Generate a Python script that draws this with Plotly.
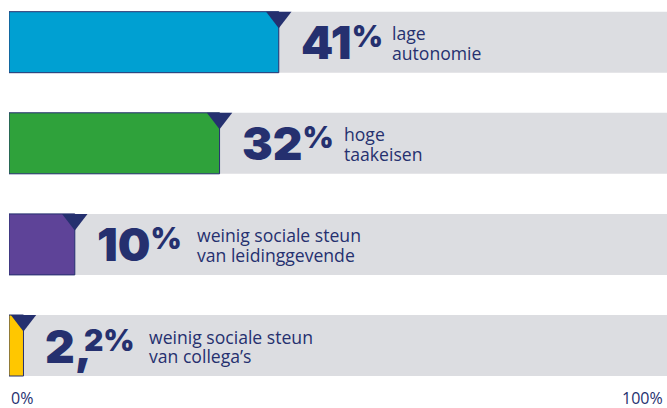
import plotly.graph_objects as go

# ---- data ----
values = [41, 32, 10, 2.2]
value_labels = ["41%", "32%", "10%", "2,2%"]
label_line1 = ["lage", "hoge", "weinig sociale steun", "weinig sociale steun"]
label_line2 = ["autonomie", "taakeisen", "van leidinggevende", "van collega\u2019s"]
bar_colors = ["#00A0D2", "#2FA23B", "#5E4398", "#FFC700"]
axis_labels = ["0%", "100%"]
full_scale = 100

# ---- style ----
W, H = 667, 408
NAVY = "#25306F"
GREY = "#DCDDE1"
PX_PER_ROW = 101.1
FIRST_ROW_PX = 42.2
BAR_H = 61 / PX_PER_ROW
TRI_SIZE = 22
NUM_SHIFT = 20
LABEL_SHIFT = [111, 122, 120, 124]
BIG = 46
SMALL = 30
LBL = 17.6

idx = list(range(len(values)))

fig = go.Figure()
fig.add_trace(go.Bar(x=[full_scale] * len(values), y=idx, orientation="h",
                     width=BAR_H, marker=dict(color=GREY, line=dict(width=0)),
                     hoverinfo="skip", showlegend=False))
fig.add_trace(go.Bar(x=values, y=idx, orientation="h", width=BAR_H,
                     marker=dict(color=bar_colors, line=dict(color=NAVY, width=1)),
                     showlegend=False))
tri_y = [i - BAR_H / 2 + (TRI_SIZE * 0.25) / PX_PER_ROW for i in idx]
fig.add_trace(go.Scatter(x=values, y=tri_y, mode="markers",
                         marker=dict(symbol="triangle-down", size=TRI_SIZE, color=NAVY,
                                     line=dict(width=0)),
                         showlegend=False, hoverinfo="skip"))


def big_text(s):
    # split "41%" -> "41" + raised "%" ; "2,2%" -> "2," + raised "2%"
    if "," in s:
        head, tail = s.split(",", 1)
        head = f"{head}<span style='letter-spacing:-8px'>,</span>"
    else:
        head, tail = s[:-1], s[-1]
    return (f"{head}<span style='font-size:{SMALL}px;baseline-shift:12px'>{tail}</span>")


for i, v in enumerate(values):
    fig.add_annotation(x=v, y=i, xref="x", yref="y", text=big_text(value_labels[i]),
                       showarrow=False, xanchor="left", yanchor="middle", xshift=NUM_SHIFT,
                       font=dict(family="Inter", size=BIG, color=NAVY, weight=900))
    fig.add_annotation(x=v, y=i, xref="x", yref="y", text=label_line1[i],
                       showarrow=False, xanchor="left", yanchor="middle",
                       xshift=LABEL_SHIFT[i], yshift=9,
                       font=dict(family="Open Sans", size=LBL, color=NAVY))
    fig.add_annotation(x=v, y=i, xref="x", yref="y", text=label_line2[i],
                       showarrow=False, xanchor="left", yanchor="middle",
                       xshift=LABEL_SHIFT[i], yshift=-10.5,
                       font=dict(family="Open Sans", size=LBL, color=NAVY))

fig.add_annotation(x=0, y=0, xref="x", yref="paper", text=axis_labels[0], showarrow=False,
                   xanchor="left", yanchor="bottom", xshift=0, yshift=-3,
                   font=dict(family="Open Sans", size=16, color=NAVY))
fig.add_annotation(x=full_scale, y=0, xref="x", yref="paper", text=axis_labels[1], showarrow=False,
                   xanchor="right", yanchor="bottom", xshift=-2, yshift=-3,
                   font=dict(family="Open Sans", size=16, color=NAVY))

y_top = -FIRST_ROW_PX / PX_PER_ROW
y_bot = (H - FIRST_ROW_PX) / PX_PER_ROW
fig.update_layout(
    width=W, height=H, margin=dict(l=0, r=0, t=0, b=0),
    paper_bgcolor="white", plot_bgcolor="white", barmode="overlay",
    xaxis=dict(domain=[9 / W, 1], range=[0, full_scale], visible=False, fixedrange=True),
    yaxis=dict(domain=[0, 1], range=[y_bot, y_top], visible=False, fixedrange=True),
    showlegend=False,
)
fig.write_html("out.html", config={"displayModeBar": False},
               post_script="document.body.style.margin='0';document.body.style.overflow='hidden';")
